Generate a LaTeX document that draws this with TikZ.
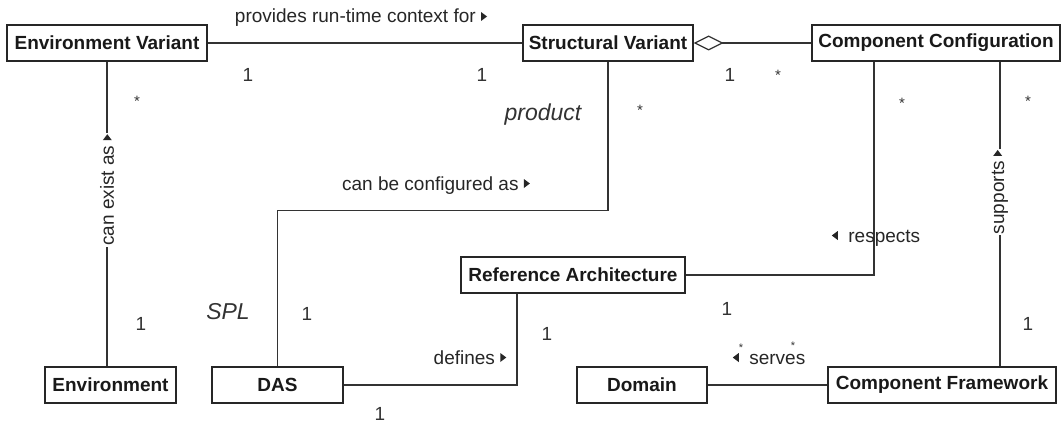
\documentclass[tikz,border=0pt]{standalone}
\usepackage{fontspec}
\setmainfont{Liberation Sans}
\usetikzlibrary{arrows.meta}
% small filled reading-direction triangles
\newcommand\rtri{\tikz[baseline=0pt]\fill (0pt,2pt)--(6pt,6.5pt)--(0pt,11pt)--cycle;}
\newcommand\ltri{\tikz[baseline=0pt]\fill (6pt,2pt)--(0pt,6.5pt)--(6pt,11pt)--cycle;}
\begin{document}
\begin{tikzpicture}[x=1pt,y=-1pt,
  cls/.style={draw=black!85, line width=1.3pt, fill=white, minimum height=36pt,
    inner sep=0pt, text=black!90, font=\fontsize{19}{21}\selectfont\bfseries},
  conn/.style={draw=black!80, line width=1.2pt},
  lbl/.style={font=\fontsize{19}{22}\selectfont, text=black!85, inner sep=0pt, anchor=base},
  role/.style={font=\fontsize{23}{26}\selectfont\itshape, text=black!80, inner sep=0pt, anchor=base},
  mult/.style={font=\fontsize{19}{22}\selectfont, text=black!80, inner sep=0pt, anchor=base},
  star/.style={font=\fontsize{15}{16}\selectfont, text=black!80, inner sep=0pt, anchor=base},
  tinystar/.style={font=\fontsize{11}{12}\selectfont, text=black!80, inner sep=0pt, anchor=base}]
\useasboundingbox[fill=white] (0,0) rectangle (1062,425);

% classes
\node[cls, minimum width=200pt] (ev) at (107,43) {Environment Variant};
\node[cls, minimum width=170pt] (sv) at (608,43) {Structural Variant};
\node[cls, minimum width=248pt] (cc) at (936,43) {Component Configuration};
\node[cls, minimum width=224pt] (ra) at (573,275) {Reference Architecture};
\node[cls, minimum width=131pt] (env) at (110.5,385) {Environment};
\node[cls, minimum width=131pt] (das) at (277.5,385) {DAS};
\node[cls, minimum width=130pt] (dom) at (642,385) {Domain};
\node[cls, minimum width=228pt] (cf) at (942,385) {Component Framework};

% bend points
\path (das.north) ++(0,-156) coordinate (k1);
\coordinate (ccl) at ([xshift=-62pt]cc.south);
\coordinate (ccr) at ([xshift=64pt]cc.south);
\coordinate (rab) at ([xshift=-56pt]ra.south);

% associations
\draw[conn] (ev.east) -- (sv.west);
\draw[conn, {Diamond[open, fill=white, length=30pt, width=15pt]}-] (sv.east) -- (cc.west);
\draw[conn] (ev.south) -- (ev.south |- env.north);
\draw[conn] (das.north) -- (k1) -| (sv.south);
\draw[conn] (ra.east) -| (ccl);
\draw[conn] (ccr) -- (ccr |- cf.north);
\draw[conn] (das.east) -| (rab);
\draw[conn] (dom.east) -- (cf.west);

% association names
\node[lbl] at (361,23) {provides run-time context for \rtri};
\node[lbl] at (436,190) {can be configured as \rtri};
\node[lbl] at (470,364) {defines \rtri};
\node[lbl] at (876,242) {\ltri\ \ respects};
\node[lbl] at (769,364) {\ltri\ \ serves};
\node[lbl, rotate=90, anchor=center, fill=white, inner sep=1pt] at (107,190) {can exist as \rtri};
\node[lbl, rotate=90, anchor=center, fill=white, inner sep=1pt] at (1000,192) {supports \rtri};

% role names
\node[role] at (543,121) {product};
\node[role] at (228,319) {SPL};

% multiplicities
\node[mult] at (248,82) {1};
\node[mult] at (482,82) {1};
\node[mult] at (730,82) {1};
\node[mult] at (307,320) {1};
\node[mult] at (141,330) {1};
\node[mult] at (547,340) {1};
\node[mult] at (727,315) {1};
\node[mult] at (1028,330) {1};
\node[mult] at (380,420) {1};
\node[star] at (137,107) {*};
\node[star] at (640,116) {*};
\node[star] at (778,81) {*};
\node[star] at (902,109) {*};
\node[star] at (1028,107) {*};
\node[tinystar] at (741,351.5) {*};
\node[tinystar] at (793,349.5) {*};
\end{tikzpicture}
\end{document}
